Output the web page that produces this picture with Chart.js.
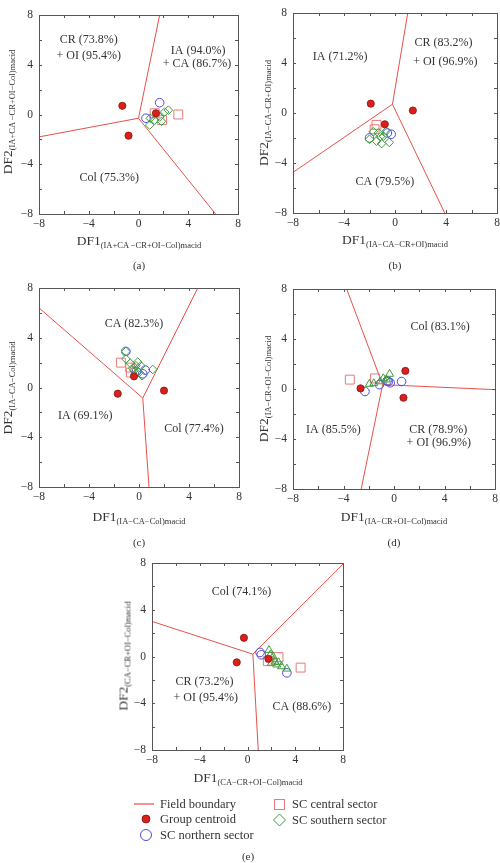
<!DOCTYPE html>
<html>
<head>
<meta charset="utf-8">
<script src="https://cdn.jsdelivr.net/npm/chart.js@4/dist/chart.umd.min.js"></script>
<style>
  body { margin: 0; background: #fff; width: 500px; height: 863px; position: relative; overflow: hidden;
         font-family: "Liberation Serif", "DejaVu Serif", serif; color: #333; }
  canvas { position: absolute; }
  .t { position: absolute; white-space: nowrap; transform: translate(-50%, -50%); font-size: 13.5px; }
  .t sub { font-size: 8.5px; vertical-align: -3px; }
  .rot { transform: translate(-50%, -50%) rotate(-90deg); }
  .cap { position: absolute; transform: translate(-50%, -50%); font-size: 11px; }
  .lg { position: absolute; font-size: 12.5px; transform: translateY(-50%); white-space: nowrap; }
</style>
</head>
<body>
<canvas id="ca" width="259" height="259"></canvas>
<canvas id="cb" width="264" height="260"></canvas>
<canvas id="cc" width="260" height="259"></canvas>
<canvas id="cd" width="262" height="260"></canvas>
<canvas id="ce" width="251" height="247"></canvas>

<div class="t" style="left:139px;top:241px">DF1<sub>(IA+CA −CR+OI−Col)macid</sub></div>
<div class="t rot" style="left:8px;top:112px">DF2<sub>(IA+CA −CR+OI−Col)macid</sub></div>
<div class="cap" style="left:139px;top:265px">(a)</div>

<div class="t" style="left:395px;top:240px">DF1<sub>(IA−CA−CR+OI)macid</sub></div>
<div class="t rot" style="left:264px;top:113px">DF2<sub>(IA−CA−CR+OI)macid</sub></div>
<div class="cap" style="left:395px;top:265px">(b)</div>

<div class="t" style="left:139px;top:517px">DF1<sub>(IA−CA−Col)macid</sub></div>
<div class="t rot" style="left:8px;top:388px">DF2<sub>(IA−CA−Col)macid</sub></div>
<div class="cap" style="left:139px;top:542px">(c)</div>

<div class="t" style="left:394px;top:517px">DF1<sub>(IA−CR+OI−Col)macid</sub></div>
<div class="t rot" style="left:264px;top:389px">DF2<sub>(IA−CR+OI−Col)macid</sub></div>
<div class="cap" style="left:394px;top:542px">(d)</div>

<div class="t" style="left:248px;top:778px">DF1<sub>(CA−CR+OI−Col)macid</sub></div>
<div class="t rot" style="left:124px;top:656px">DF2<sub>(CA−CR+OI−Col)macid</sub></div>
<div class="cap" style="left:248px;top:856px">(e)</div>

<svg style="position:absolute;left:0;top:790px" width="500" height="60">
  <line x1="134" y1="14" x2="154" y2="14" stroke="#e8504a" stroke-width="1.2"/>
  <circle cx="146" cy="29" r="4" fill="#d9211c" stroke="#8a1010" stroke-width="0.8"/>
  <circle cx="146" cy="45" r="5.5" fill="none" stroke="#4b4bdc" stroke-width="1"/>
  <rect x="274.5" y="9.5" width="10" height="10" fill="none" stroke="#e87a7a" stroke-width="1"/>
  <path d="M279.5 24 L285.5 30 L279.5 36 L273.5 30 Z" fill="none" stroke="#3f9b3f" stroke-width="1"/>
</svg>
<div class="lg" style="left:160px;top:804px">Field boundary</div>
<div class="lg" style="left:160px;top:819px">Group centroid</div>
<div class="lg" style="left:160px;top:835px">SC northern sector</div>
<div class="lg" style="left:292px;top:804px">SC central sector</div>
<div class="lg" style="left:292px;top:820px">SC southern sector</div>

<script>
// axis range and labelled ticks (same for all five panels)
const axisMin = -8;
const axisMax = 8;
const tickLabels = [-8, -4, 0, 4, 8];

// (a) DF1/DF2 (IA+CA-CR+OI-Col)macid
const aJunction = [0, -0.3];
const aBoundary = [[1.7, 8], [-8, -1.8], [6.2, -8]];
const aCentroid = [[-1.3, 0.7], [-0.8, -1.7], [1.4, 0.1]];
const aNorth = [[1.7, 0.95], [0.6, -0.3]];
const aCentral = [[3.2, 0.0], [1.3, 0.1], [1.9, -0.45]];
const aSouth = [[0.9, -0.85], [1.3, -0.45], [1.7, -0.2], [2.1, 0.2], [2.4, 0.35], [1.85, -0.55], [0.95, -0.3]];
const aText = [['CR (73.8%)', -4.0, 6.0], ['+ OI (95.4%)', -4.0, 4.7], ['IA (94.0%)', 4.8, 5.1],
  ['+ CA (86.7%)', 4.7, 4.1], ['Col (75.3%)', -2.35, -5.1]];

// (b) (IA-CA-CR+OI)macid
const bJunction = [-0.2, 0.7];
const bBoundary = [[1.0, 8], [-8, -4.75], [3.9, -8]];
const bCentroid = [[-1.9, 0.75], [1.4, 0.2], [-0.8, -0.9]];
const bNorth = [[-0.3, -1.7], [-2.0, -2.0], [-0.6, -1.6]];
const bCentral = [[-1.45, -0.95], [-1.6, -1.3]];
const bSouth = [[-1.7, -1.5], [-1.3, -1.6], [-2.0, -2.1], [-1.45, -2.25], [-0.9, -1.85], [-0.7, -1.45],
  [-0.45, -2.35], [-1.05, -2.45], [-1.15, -1.9]];
const bText = [['IA (71.2%)', -4.3, 4.5], ['CR (83.2%)', 3.8, 5.65], ['+ OI (96.9%)', 3.95, 4.1],
  ['CA (79.5%)', -0.8, -5.5]];

// (c) (IA-CA-Col)macid
const cJunction = [0.3, -0.85];
const cBoundary = [[-8, 6.4], [4.7, 8], [0.8, -8]];
const cCentroid = [[-1.7, -0.5], [2.0, -0.25], [-0.4, 0.9]];
const cNorth = [[-1.05, 2.9], [0.5, 1.4], [0.3, 1.1], [-0.2, 1.3]];
const cCentral = [[-1.45, 2.0], [-0.7, 1.6], [-0.65, 1.2]];
const cSouth = [[-1.05, 2.9], [-1.05, 2.3], [-0.7, 1.95], [-0.25, 1.75], [-0.4, 1.35], [1.1, 1.45],
  [0.0, 1.2], [0.15, 1.75], [-0.1, 2.05], [0.25, 0.95], [-0.5, 1.55]];
const cText = [['CA (82.3%)', -0.4, 5.15], ['IA (69.1%)', -4.3, -2.3], ['Col (77.4%)', 4.4, -3.3]];

// (d) (IA-CR+OI-Col)macid
const dJunction = [-0.9, 0.35];
const dBoundary = [[-3.75, 8], [8, -0.05], [-2.6, -8]];
const dCentroid = [[-2.65, 0.05], [0.9, 1.45], [0.75, -0.7]];
const dNorth = [[-2.3, -0.2], [-1.15, 0.35], [-0.45, 0.6], [-0.3, 0.5], [0.6, 0.6], [-0.55, 0.65]];
const dCentral = [[-3.5, 0.75], [-1.5, 0.85]];
const dSouth = [[-1.95, 0.4], [-1.6, 0.45], [-1.1, 0.6], [-0.85, 0.85], [-0.35, 1.2], [-0.6, 0.75]];
const dText = [['Col (83.1%)', 3.65, 5.0], ['IA (85.5%)', -4.8, -3.25], ['CR (78.9%)', 3.5, -3.25],
  ['+ OI (96.9%)', 3.55, -4.3]];

// (e) (CA-CR+OI-Col)macid
const eJunction = [0.45, 0.2];
const eBoundary = [[-8, 3.0], [8, 7.9], [0.9, -8]];
const eCentroid = [[-0.3, 1.6], [-0.9, -0.5], [1.75, -0.2]];
const eNorth = [[1.15, 0.15], [1.05, 0.35], [3.3, -1.4]];
const eCentral = [[2.6, -0.05], [4.45, -0.95], [1.7, -0.4]];
const eSouth = [[1.8, 0.55], [1.9, 0.15], [2.15, 0.0], [2.3, -0.45], [2.45, -0.7], [2.85, -0.85],
  [3.3, -1.05], [2.0, -0.55], [2.6, -0.5]];
const eText = [['Col (74.1%)', -0.5, 5.55], ['CR (73.2%)', -3.6, -2.15], ['+ OI (95.4%)', -3.5, -3.55],
  ['CA (88.6%)', 4.55, -4.3]];

const RED = '#e8504a';
const TEXT = '#333';
const FRAME = '#555';
const PAD = 30;

const pts = arr => arr.map(([x, y]) => ({ x, y }));

const framePlugin = {
  id: 'frame',
  afterDatasetsDraw(chart, args, opts) {
    const { ctx, chartArea: a, scales } = chart;
    const xs = scales.x, ys = scales.y;
    ctx.save();
    ctx.strokeStyle = FRAME;
    ctx.lineWidth = 1;
    ctx.strokeRect(Math.round(a.left) + 0.5, Math.round(a.top) + 0.5,
      Math.round(a.right - a.left), Math.round(a.bottom - a.top));
    ctx.beginPath();
    for (let v = axisMin + 2; v < axisMax; v += 2) {
      const px = Math.round(xs.getPixelForValue(v)) + 0.5;
      const py = Math.round(ys.getPixelForValue(v)) + 0.5;
      ctx.moveTo(px, a.bottom); ctx.lineTo(px, a.bottom - 3);
      ctx.moveTo(px, a.top); ctx.lineTo(px, a.top + 3);
      ctx.moveTo(a.left, py); ctx.lineTo(a.left + 3, py);
      ctx.moveTo(a.right, py); ctx.lineTo(a.right - 3, py);
    }
    ctx.stroke();

    ctx.fillStyle = TEXT;
    ctx.font = '11.5px "Liberation Serif", serif';
    ctx.textAlign = 'center';
    ctx.textBaseline = 'middle';
    tickLabels.forEach(v => {
      const s = v < 0 ? '\u2212' + Math.abs(v) : String(v);
      ctx.fillText(s, xs.getPixelForValue(v), a.bottom + 10);
    });
    ctx.textAlign = 'right';
    tickLabels.forEach(v => {
      const s = v < 0 ? '\u2212' + Math.abs(v) : String(v);
      ctx.fillText(s, a.left - 6, ys.getPixelForValue(v));
    });

    ctx.font = '12px "Liberation Serif", serif';
    ctx.textAlign = 'center';
    (opts.text || []).forEach(([s, x, y]) => {
      ctx.fillText(s, xs.getPixelForValue(x), ys.getPixelForValue(y));
    });
    ctx.restore();
  }
};

function makePanel(id, left, top, w, h, junction, boundary, centroid, north, central, south, southStyle, text) {
  const canvas = document.getElementById(id);
  canvas.style.left = (left - PAD) + 'px';
  canvas.style.top = (top - PAD) + 'px';
  canvas.width = w + 2 * PAD;
  canvas.height = h + 2 * PAD;

  const datasets = boundary.map(end => ({
    type: 'scatter',
    data: pts([junction, end]),
    showLine: true,
    borderColor: RED,
    borderWidth: 1,
    pointRadius: 0,
    order: 10,
  }));
  datasets.push({
    data: pts(central), pointStyle: 'rect', pointRadius: 6.3,
    borderColor: '#e87a7a', backgroundColor: 'rgba(0,0,0,0)', borderWidth: 1, order: 4,
  });
  datasets.push({
    data: pts(north), pointStyle: 'circle', pointRadius: 4.3,
    borderColor: '#4b4bdc', backgroundColor: 'rgba(0,0,0,0)', borderWidth: 1, order: 3,
  });
  datasets.push({
    data: pts(south), pointStyle: southStyle, pointRadius: southStyle === 'triangle' ? 4.6 : 4.3,
    borderColor: '#3f9b3f', backgroundColor: 'rgba(0,0,0,0)', borderWidth: 1, order: 2,
  });
  datasets.push({
    data: pts(centroid), pointStyle: 'circle', pointRadius: 3.6,
    borderColor: '#8a1010', backgroundColor: '#d9211c', borderWidth: 0.8, order: 1,
  });

  new Chart(canvas, {
    type: 'scatter',
    data: { datasets },
    options: {
      responsive: false,
      animation: false,
      layout: { padding: PAD },
      events: [],
      scales: {
        x: { type: 'linear', min: axisMin, max: axisMax, display: false },
        y: { type: 'linear', min: axisMin, max: axisMax, display: false },
      },
      plugins: {
        legend: { display: false },
        tooltip: { enabled: false },
        frame: { text },
      },
    },
    plugins: [framePlugin],
  });
}

makePanel('ca', 39, 15, 199, 199, aJunction, aBoundary, aCentroid, aNorth, aCentral, aSouth, 'rectRot', aText);
makePanel('cb', 293, 13, 204, 200, bJunction, bBoundary, bCentroid, bNorth, bCentral, bSouth, 'rectRot', bText);
makePanel('cc', 39, 288, 200, 199, cJunction, cBoundary, cCentroid, cNorth, cCentral, cSouth, 'rectRot', cText);
makePanel('cd', 293, 289, 202, 200, dJunction, dBoundary, dCentroid, dNorth, dCentral, dSouth, 'triangle', dText);
makePanel('ce', 152, 563, 191, 187, eJunction, eBoundary, eCentroid, eNorth, eCentral, eSouth, 'triangle', eText);
</script>
</body>
</html>
